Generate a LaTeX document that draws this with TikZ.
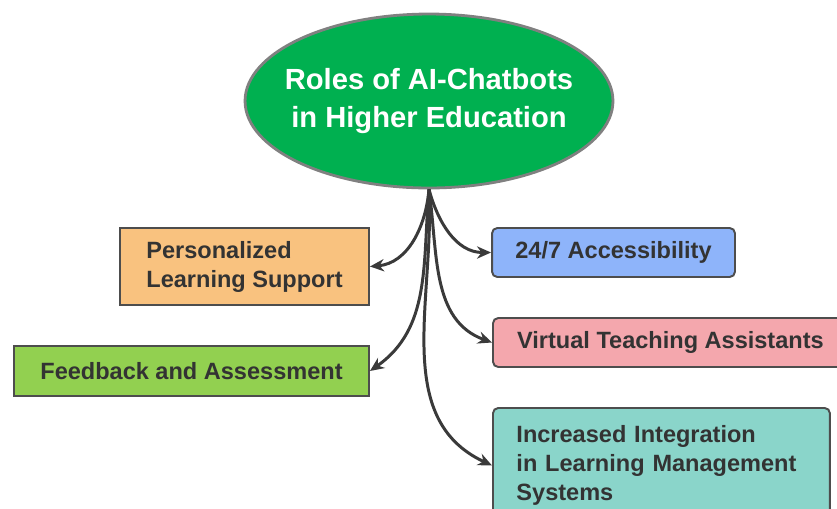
\documentclass[tikz,border=0pt]{standalone}
\usepackage{fontspec}
\setmainfont{Liberation Sans}
\usetikzlibrary{shapes.geometric,arrows.meta}

\definecolor{rootGreen}{HTML}{00B050}
\definecolor{rimGray}{HTML}{808080}
\definecolor{boxBorder}{HTML}{4D4D4D}
\definecolor{inkGray}{HTML}{333333}
\definecolor{arrowGray}{HTML}{3A3A3A}
\definecolor{orangeFill}{HTML}{F9C27F}
\definecolor{limeFill}{HTML}{92D050}
\definecolor{blueFill}{HTML}{8EB4FA}
\definecolor{pinkFill}{HTML}{F4A7AD}
\definecolor{tealFill}{HTML}{8AD5CA}

\begin{document}
\begin{tikzpicture}[x=0.02cm,y=-0.02cm,
  rootEllipse/.style={ellipse,draw=rimGray,line width=1.6pt,fill=rootGreen,
    minimum width=7.36cm,minimum height=3.48cm,inner xsep=-0.4cm,inner ysep=0pt,text=white,
    font=\bfseries\fontsize{16.6}{21.6}\selectfont,align=center},
  roleBox/.style={draw=boxBorder,line width=1.1pt,text=inkGray,
    font=\bfseries\fontsize{13.4}{16.5}\selectfont,align=left,inner sep=0pt},
  roleArrow/.style={-{Stealth[length=8pt,width=7pt]},line width=1.7pt,draw=arrowGray}]
  \useasboundingbox (0,0) rectangle (837,508);
  \clip (0,0) rectangle (837,508);

  % centre topic
  \node[rootEllipse] (root) at (429,101) {Roles of AI-Chatbots\\in Higher Education};

  % roles on the left
  \node[roleBox,fill=orangeFill,minimum width=4.98cm,minimum height=1.54cm]
    (pls) at (244.5,266.5) {Personalized\\Learning Support};
  \node[roleBox,fill=limeFill,minimum width=7.1cm,minimum height=1cm]
    (fba) at (191.5,371) {Feedback and Assessment};

  % roles on the right
  \node[roleBox,fill=blueFill,rounded corners=3pt,minimum width=4.86cm,minimum height=0.98cm]
    (acc) at (613.5,252.5) {24/7 Accessibility};
  \node[roleBox,fill=pinkFill,rounded corners=3pt,minimum width=7.1cm,minimum height=0.98cm,
    anchor=west] (vta) at (492,342.5) {Virtual Teaching Assistants};
  \node[roleBox,fill=tealFill,rounded corners=3pt,text width=5.8cm,inner xsep=0.47cm,
    minimum height=2.3cm,anchor=north west] (lms) at (492,407)
    {Increased Integration\\in Learning Management\\Systems};

  % connectors
  \draw[roleArrow] (root.south) to[out=-95,in=5] (pls.east);
  \draw[roleArrow] (root.south) to[out=-95,in=35] (fba.east);
  \draw[roleArrow] (root.south) to[out=-75,in=180] (acc.west);
  \draw[roleArrow] (root.south) to[out=-82,in=160] (vta.west);
  \draw[roleArrow] (root.south) to[out=-87,in=155] (lms.west);
\end{tikzpicture}
\end{document}
